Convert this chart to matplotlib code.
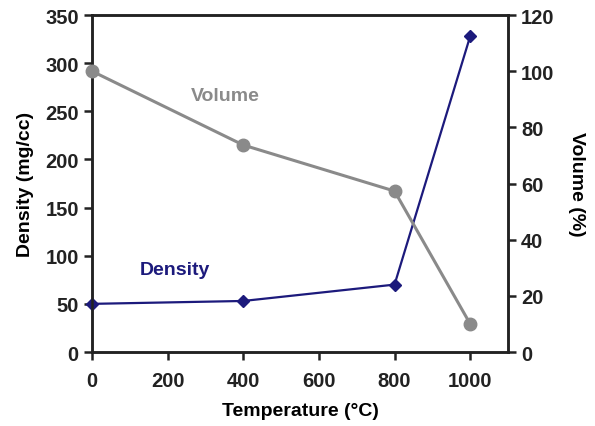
import matplotlib
matplotlib.use("Agg")
import matplotlib.pyplot as plt
from matplotlib import font_manager

temperature = [0, 400, 800, 1000]
density = [50, 53, 70, 328]
volume = [100, 73.7, 57.3, 10]

x_ticks = [0, 200, 400, 600, 800, 1000]
density_ticks = [0, 50, 100, 150, 200, 250, 300, 350]
volume_ticks = [0, 20, 40, 60, 80, 100, 120]

names = {f.name for f in font_manager.fontManager.ttflist}
family = "Liberation Sans Narrow" if "Liberation Sans Narrow" in names else "Liberation Sans"
plt.rcParams["font.family"] = [family, "DejaVu Sans"]
plt.rcParams["font.weight"] = "bold"

navy = "#1c1a7c"
grey = "#8a8a8a"

fig = plt.figure(figsize=(5.95, 4.27), dpi=100)
ax = fig.add_axes([0.1546, 0.1733, 0.6992, 0.7892])
ax2 = ax.twinx()

ax.plot(temperature, density, color=navy, lw=1.6, marker="D", ms=6, zorder=3, clip_on=False)
ax2.plot(temperature, volume, color=grey, lw=2.2, marker="o", ms=9, zorder=3, clip_on=False)

ax.set_xlim(0, 1100)
ax.set_ylim(0, 350)
ax2.set_ylim(0, 120)
ax.set_xticks(x_ticks)
ax.set_yticks(density_ticks)
ax2.set_yticks(volume_ticks)

for a in (ax, ax2):
    for s in a.spines.values():
        s.set_linewidth(1.8)
        s.set_color("#222222")
    a.tick_params(direction="out", length=6, width=1.8, labelsize=14.5, colors="#222222")
ax.tick_params(axis="x", pad=8)

ax.set_xlabel("Temperature (°C)", fontsize=14, fontweight="bold", labelpad=8)
ax.set_ylabel("Density (mg/cc)", fontsize=14, fontweight="bold", labelpad=8)
ax2.set_ylabel("Volume (%)", fontsize=14, fontweight="bold", rotation=-90, labelpad=22)

ax.text(220, 86, "Density", color=navy, fontsize=14, fontweight="bold", ha="center", va="center")
ax2.text(353, 91.5, "Volume", color=grey, fontsize=14, fontweight="bold", ha="center", va="center")

fig.savefig("out.png", dpi=100)
